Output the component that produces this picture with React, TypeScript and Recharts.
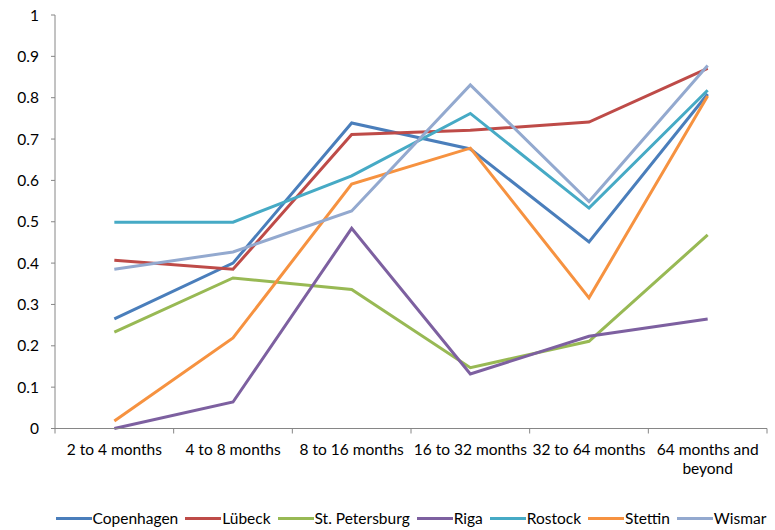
import React from "react";
import { LineChart, Line, XAxis, YAxis, Legend, Text } from "recharts";

const categories = [
  "2 to 4 months",
  "4 to 8 months",
  "8 to 16 months",
  "16 to 32 months",
  "32 to 64 months",
  "64 months and beyond",
];

const copenhagen = [0.265, 0.4, 0.739, 0.676, 0.451, 0.809];
const lubeck = [0.407, 0.385, 0.711, 0.721, 0.741, 0.871];
const stPetersburg = [0.233, 0.364, 0.336, 0.147, 0.211, 0.468];
const riga = [0.0, 0.064, 0.484, 0.132, 0.223, 0.265];
const rostock = [0.499, 0.499, 0.611, 0.762, 0.533, 0.818];
const stettin = [0.018, 0.219, 0.591, 0.678, 0.316, 0.804];
const wismar = [0.385, 0.427, 0.526, 0.831, 0.549, 0.878];

const yTicks = [0, 0.1, 0.2, 0.3, 0.4, 0.5, 0.6, 0.7, 0.8, 0.9, 1];
const xBoundaries = [0, 1, 2, 3, 4, 5, 6];

const series = [
  { key: "Copenhagen", values: copenhagen, color: "#4A7EBB" },
  { key: "Lübeck", values: lubeck, color: "#BE4B48" },
  { key: "St. Petersburg", values: stPetersburg, color: "#98B954" },
  { key: "Riga", values: riga, color: "#7D60A0" },
  { key: "Rostock", values: rostock, color: "#46AAC5" },
  { key: "Stettin", values: stettin, color: "#F69240" },
  { key: "Wismar", values: wismar, color: "#93A9CF" },
];

const data = categories.map((c, i) => {
  const row: Record<string, number | string> = { x: i + 0.5, name: c };
  series.forEach((s) => {
    row[s.key] = s.values[i];
  });
  return row;
});

const W = 775;
const H = 530;
const MARGIN = { top: 15, right: 8, bottom: 0, left: 0 };
const Y_AXIS_W = 55;
const STEP = (W - MARGIN.left - MARGIN.right - Y_AXIS_W) / categories.length;
const FONT = "Lato, 'Open Sans', sans-serif";
const FS = 15.5;

const XTick = (props: any) => {
  const { x, y, payload } = props;
  const idx = payload.value;
  if (idx >= categories.length) return <g />;
  return (
    <Text
      x={x + STEP / 2}
      y={y + 8}
      width={116}
      textAnchor="middle"
      verticalAnchor="start"
      lineHeight={19.5}
      fontSize={FS}
      fontFamily={FONT}
      fill="#000"
    >
      {categories[idx]}
    </Text>
  );
};

const LegendContent = () => (
  <div
    style={{
      display: "flex",
      justifyContent: "center",
      alignItems: "center",
      height: 20,
      fontFamily: FONT,
      fontSize: FS,
      color: "#000",
      whiteSpace: "nowrap",
      paddingLeft: 62,
    }}
  >
    {series.map((s) => (
      <div key={s.key} style={{ display: "flex", alignItems: "center", marginRight: 7 }}>
        <div style={{ width: 36, height: 3, background: s.color, marginRight: 1 }} />
        <span>{s.key}</span>
      </div>
    ))}
  </div>
);

export default function App() {
  return (
    <div style={{ position: "absolute", left: 0, top: 0, background: "#fff" }}>
      <LineChart width={W} height={H} data={data} margin={MARGIN}>
        <XAxis
          dataKey="x"
          type="number"
          domain={[0, 6]}
          ticks={xBoundaries}
          interval={0}
          height={81.5}
          stroke="#868686"
          tickSize={5}
          tick={<XTick />}
        />
        <YAxis
          type="number"
          domain={[0, 1]}
          ticks={yTicks}
          width={Y_AXIS_W}
          stroke="#868686"
          tickSize={4}
          tickMargin={12}
          tick={{ fill: "#000", fontSize: FS, fontFamily: FONT }}
          tickFormatter={(v: number) => String(v)}
        />
        <Legend
          verticalAlign="bottom"
          height={20}
          content={<LegendContent />}
          wrapperStyle={{ bottom: 2 }}
        />
        {series.map((s) => (
          <Line
            key={s.key}
            dataKey={s.key}
            stroke={s.color}
            strokeWidth={3}
            dot={false}
            activeDot={false}
            isAnimationActive={false}
          />
        ))}
      </LineChart>
    </div>
  );
}
